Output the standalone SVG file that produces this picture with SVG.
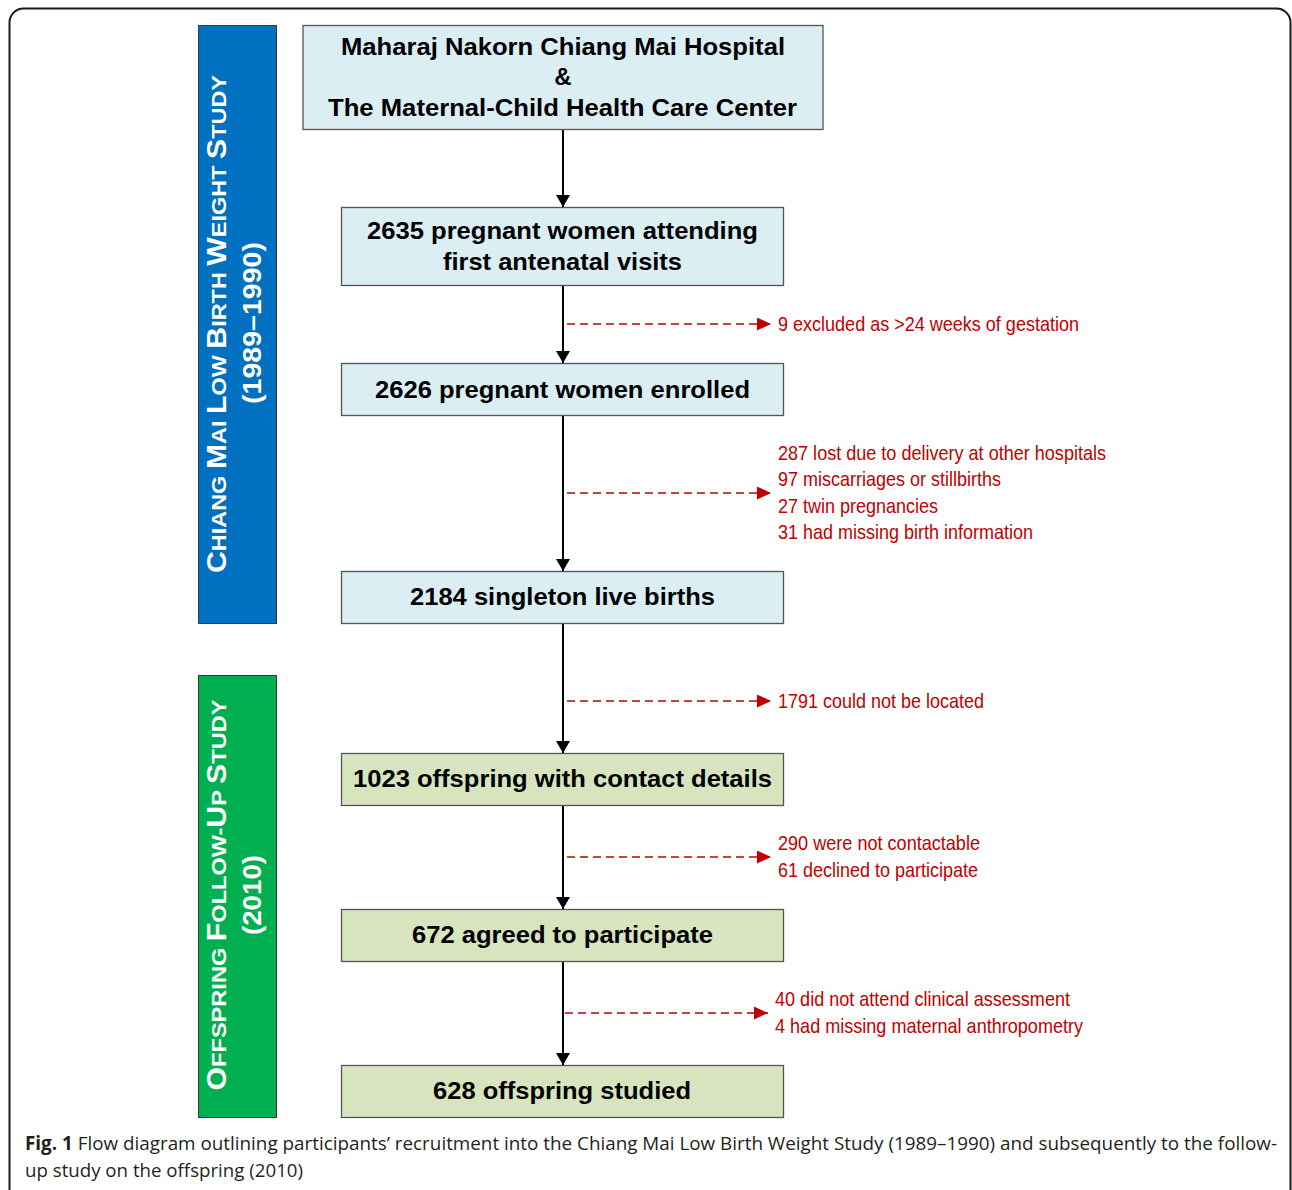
<svg xmlns="http://www.w3.org/2000/svg" width="1292" height="1190" viewBox="0 0 1292 1190">
<defs>
<style>
.frame{fill:none;stroke:#1a1a1a;stroke-width:2}
.side{stroke:#3a3a3a;stroke-width:1}
.bbox{fill:#daeef3;stroke:#555;stroke-width:1.3}
.gbox{fill:#d7e4bd;stroke:#555;stroke-width:1.3}
.bt{font-family:"Liberation Sans",Arial,sans-serif;font-weight:bold;font-size:24px;fill:#000;text-anchor:start}
.st{font-family:"Liberation Sans",Arial,sans-serif;font-weight:bold;fill:#fff}
.rt{font-family:"Liberation Sans",Arial,sans-serif;font-size:21px;fill:#c00000}
.cap{font-family:"Open Sans","Liberation Sans",sans-serif;font-size:19px;fill:#231f20}
.main{stroke:#000;stroke-width:2;fill:none}
.ex{stroke:#c00000;stroke-width:1.6;stroke-dasharray:8 5;fill:none}
</style>
<marker id="ab" viewBox="0 0 12 14" refX="12" refY="7" markerWidth="12" markerHeight="14" markerUnits="userSpaceOnUse" orient="auto"><path d="M0,0 L12,7 L0,14 z" fill="#000"/></marker>
<marker id="ar" viewBox="0 0 14 13" refX="14" refY="6.5" markerWidth="14" markerHeight="13" markerUnits="userSpaceOnUse" orient="auto"><path d="M0,0 L14,6.5 L0,13 z" fill="#c00000"/></marker>
</defs>
<rect class="frame" x="9.5" y="8.5" width="1281" height="1200" rx="14"/>

<g id="side-cmlbw">
<rect class="side" x="198.5" y="25.5" width="78" height="598" fill="#0070c0"/>
<text class="st" transform="translate(226,324) rotate(-90)" text-anchor="middle" textLength="498" lengthAdjust="spacingAndGlyphs"><tspan font-size="27">C</tspan><tspan font-size="21">HIANG </tspan><tspan font-size="27">M</tspan><tspan font-size="21">AI </tspan><tspan font-size="27">L</tspan><tspan font-size="21">OW </tspan><tspan font-size="27">B</tspan><tspan font-size="21">IRTH </tspan><tspan font-size="27">W</tspan><tspan font-size="21">EIGHT </tspan><tspan font-size="27">S</tspan><tspan font-size="21">TUDY</tspan></text>
<text class="st" transform="translate(261,323) rotate(-90)" text-anchor="middle" font-size="25" textLength="162" lengthAdjust="spacingAndGlyphs">(1989–1990)</text>
</g>

<g id="side-followup">
<rect class="side" x="198.5" y="675.5" width="78" height="442" fill="#00b050"/>
<text class="st" transform="translate(226,895) rotate(-90)" text-anchor="middle" textLength="391" lengthAdjust="spacingAndGlyphs"><tspan font-size="27">O</tspan><tspan font-size="21">FFSPRING </tspan><tspan font-size="27">F</tspan><tspan font-size="21">OLLOW-</tspan><tspan font-size="27">U</tspan><tspan font-size="21">P </tspan><tspan font-size="27">S</tspan><tspan font-size="21">TUDY</tspan></text>
<text class="st" transform="translate(261,895) rotate(-90)" text-anchor="middle" font-size="25" textLength="80" lengthAdjust="spacingAndGlyphs">(2010)</text>
</g>

<g id="n-hospital">
<rect class="bbox" x="303" y="25.5" width="520" height="104"/>
<text class="bt" x="341" y="55" font-size="25" textLength="444" lengthAdjust="spacingAndGlyphs">Maharaj Nakorn Chiang Mai Hospital</text>
<text class="bt" x="563" y="85" style="text-anchor:middle">&amp;</text>
<text class="bt" x="328" y="116" font-size="25" textLength="469" lengthAdjust="spacingAndGlyphs">The Maternal-Child Health Care Center</text>
</g>

<g id="n-2635">
<rect class="bbox" x="341.5" y="207.5" width="442" height="78"/>
<text class="bt" x="367" y="239" textLength="391" lengthAdjust="spacingAndGlyphs">2635 pregnant women attending</text>
<text class="bt" x="443" y="270" textLength="239" lengthAdjust="spacingAndGlyphs">first antenatal visits</text>
</g>

<g id="n-2626">
<rect class="bbox" x="341.5" y="363.5" width="442" height="52"/>
<text class="bt" x="375" y="398" textLength="375" lengthAdjust="spacingAndGlyphs">2626 pregnant women enrolled</text>
</g>

<g id="n-2184">
<rect class="bbox" x="341.5" y="571.5" width="442" height="52"/>
<text class="bt" x="410" y="605" textLength="305" lengthAdjust="spacingAndGlyphs">2184 singleton live births</text>
</g>

<g id="n-1023">
<rect class="gbox" x="341.5" y="753.5" width="442" height="52"/>
<text class="bt" x="353" y="787" textLength="419" lengthAdjust="spacingAndGlyphs">1023 offspring with contact details</text>
</g>

<g id="n-672">
<rect class="gbox" x="341.5" y="909.5" width="442" height="52"/>
<text class="bt" x="412" y="943" textLength="301" lengthAdjust="spacingAndGlyphs">672 agreed to participate</text>
</g>

<g id="n-628">
<rect class="gbox" x="341.5" y="1065.5" width="442" height="52"/>
<text class="bt" x="433" y="1099" textLength="258" lengthAdjust="spacingAndGlyphs">628 offspring studied</text>
</g>

<g id="excl-1">
<text class="rt" x="778" y="331" textLength="301" lengthAdjust="spacingAndGlyphs">9 excluded as &gt;24 weeks of gestation</text>
</g>
<g id="excl-2">
<text class="rt" x="778" y="460" textLength="328" lengthAdjust="spacingAndGlyphs">287 lost due to delivery at other hospitals</text>
<text class="rt" x="778" y="486" textLength="223" lengthAdjust="spacingAndGlyphs">97 miscarriages or stillbirths</text>
<text class="rt" x="778" y="513" textLength="160" lengthAdjust="spacingAndGlyphs">27 twin pregnancies</text>
<text class="rt" x="778" y="539" textLength="255" lengthAdjust="spacingAndGlyphs">31 had missing birth information</text>
</g>
<g id="excl-3">
<text class="rt" x="778" y="708" textLength="206" lengthAdjust="spacingAndGlyphs">1791 could not be located</text>
</g>
<g id="excl-4">
<text class="rt" x="778" y="850" textLength="202" lengthAdjust="spacingAndGlyphs">290 were not contactable</text>
<text class="rt" x="778" y="877" textLength="200" lengthAdjust="spacingAndGlyphs">61 declined to participate</text>
</g>
<g id="excl-5">
<text class="rt" x="775" y="1006" textLength="295" lengthAdjust="spacingAndGlyphs">40 did not attend clinical assessment</text>
<text class="rt" x="775" y="1033" textLength="308" lengthAdjust="spacingAndGlyphs">4 had missing maternal anthropometry</text>
</g>

<g id="connectors">
<line class="main" x1="563" y1="130" x2="563" y2="207" marker-end="url(#ab)"/>
<line class="main" x1="563" y1="286" x2="563" y2="363" marker-end="url(#ab)"/>
<line class="main" x1="563" y1="416" x2="563" y2="571" marker-end="url(#ab)"/>
<line class="main" x1="563" y1="624" x2="563" y2="753" marker-end="url(#ab)"/>
<line class="main" x1="563" y1="806" x2="563" y2="909" marker-end="url(#ab)"/>
<line class="main" x1="563" y1="962" x2="563" y2="1065" marker-end="url(#ab)"/>
<line class="ex" x1="567" y1="324" x2="771" y2="324" marker-end="url(#ar)"/>
<line class="ex" x1="567" y1="493" x2="771" y2="493" marker-end="url(#ar)"/>
<line class="ex" x1="567" y1="701" x2="771" y2="701" marker-end="url(#ar)"/>
<line class="ex" x1="567" y1="857" x2="771" y2="857" marker-end="url(#ar)"/>
<line class="ex" x1="565" y1="1013" x2="768" y2="1013" marker-end="url(#ar)"/>
</g>

<g id="caption">
<text class="cap" x="25" y="1150" textLength="1252" lengthAdjust="spacingAndGlyphs"><tspan font-weight="bold">Fig. 1</tspan> Flow diagram outlining participants’ recruitment into the Chiang Mai Low Birth Weight Study (1989–1990) and subsequently to the follow-</text>
<text class="cap" x="25" y="1177" textLength="278" lengthAdjust="spacingAndGlyphs">up study on the offspring (2010)</text>
</g>
</svg>
